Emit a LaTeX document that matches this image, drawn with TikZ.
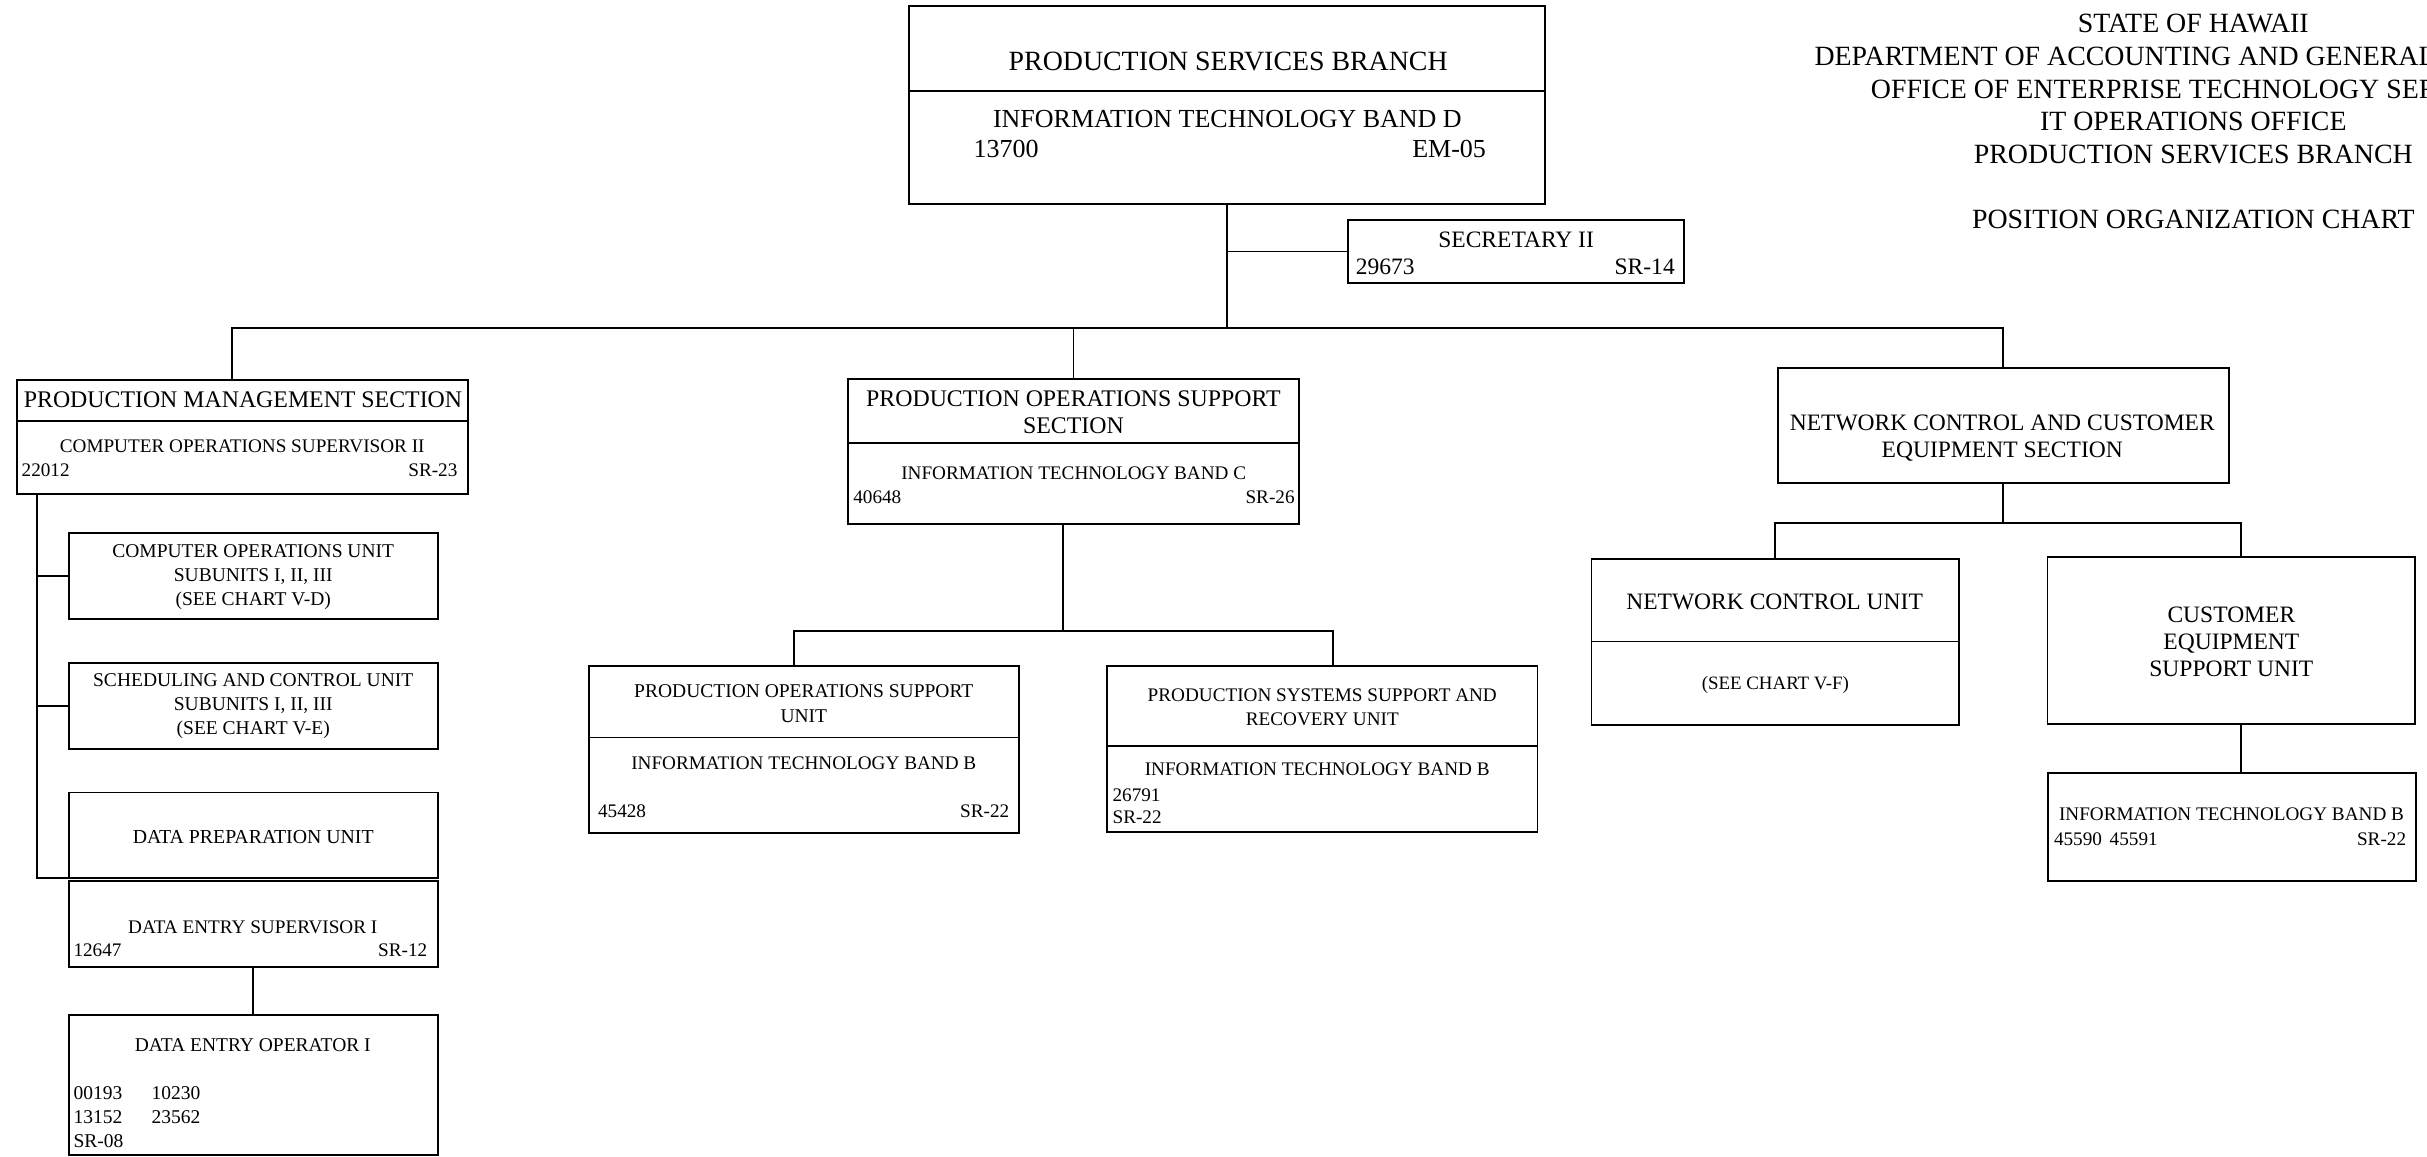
\documentclass[tikz,border=0pt]{standalone}
\usepackage{fontspec}
\setmainfont{Liberation Serif}
\usetikzlibrary{fit}
\begin{document}
\begin{tikzpicture}[x=0.5pt,y=-0.5pt,
  box/.style={draw, line width=0.6pt, inner sep=0pt, outer sep=0pt},
  wire/.style={line width=0.6pt},
  txt/.style={inner sep=0pt, outer sep=0pt, align=center},
  numL/.style={inner sep=0pt, outer sep=0pt, anchor=west},
  numR/.style={inner sep=0pt, outer sep=0pt, anchor=east},
  f90/.style={font=\fontsize{9}{10.6}\selectfont},
  f84/.style={font=\fontsize{8.4}{9.6}\selectfont},
  f77/.style={font=\fontsize{7.7}{8.85}\selectfont},
  f76/.style={font=\fontsize{7.6}{8.7}\selectfont},
  f64/.style={font=\fontsize{6.4}{7.8}\selectfont},
  f63/.style={font=\fontsize{6.3}{7.85}\selectfont},
  f62/.style={font=\fontsize{6.2}{7.8}\selectfont},
  f61/.style={font=\fontsize{6.1}{7.5}\selectfont}]

\useasboundingbox (0,0) rectangle (1568,747);
\clip (0,0) rectangle (1568,747);

% ---------- heading (runs past the sheet edge on the right) ----------
\node[txt,f90] (hdr) at (1417,57.5) {STATE OF HAWAII\\DEPARTMENT OF ACCOUNTING AND GENERAL SERVICES\\OFFICE OF ENTERPRISE TECHNOLOGY SERVICES\\IT OPERATIONS OFFICE\\PRODUCTION SERVICES BRANCH};
\node[txt,f90] (chart) at (1417,142) {POSITION ORGANIZATION CHART};

% ---------- branch chief ----------
\node[box, fit={(587,4) (998,132)}] (T) {};
\draw[wire] (587,59) -- (998,59);
\node[txt,f90] (Tname) at (793.5,40) {PRODUCTION SERVICES BRANCH};
\node[txt,f84] (Tpos) at (793,77) {INFORMATION TECHNOLOGY BAND D};
\node[numL,f84] (Tno) at (629,96) {13700};
\node[numR,f84] (Tsr) at (960,96) {EM-05};

% ---------- secretary ----------
\node[box, fit={(871,142) (1088,183)}] (SEC) {};
\node[txt,f76] (SECname) at (979.5,155) {SECRETARY II};
\node[numL,f76] (SECno) at (876,172.5) {29673};
\node[numR,f76] (SECsr) at (1082,172.5) {SR-14};

% ---------- production management section ----------
\node[box, fit={(11,245.5) (302.5,319)}] (PMS) {};
\draw[wire] (11,272) -- (302.5,272);
\node[txt,f77] (PMSname) at (157,258.5) {PRODUCTION MANAGEMENT SECTION};
\node[txt,f62] (PMSpos) at (156.5,288.5) {COMPUTER OPERATIONS SUPERVISOR II};
\node[numL,f62] (PMSno) at (14,303.6) {22012};
\node[numR,f62] (PMSsr) at (295.5,303.6) {SR-23};

\node[box, fit={(44.6,344.4) (282.7,400)}] (COU) {};
\node[txt,f63] (COUtxt) at (163.6,372.8) {COMPUTER OPERATIONS UNIT\\SUBUNITS I, II, III\\(SEE CHART V-D)};

\node[box, fit={(44.6,428.4) (282.7,484)}] (SCU) {};
\node[txt,f63] (SCUtxt) at (163.6,456.3) {SCHEDULING AND CONTROL UNIT\\SUBUNITS I, II, III\\(SEE CHART V-E)};

\node[box, fit={(44.6,512) (282.7,567.3)}] (DPU) {};
\node[txt,f64] (DPUtxt) at (163.6,540.5) {DATA PREPARATION UNIT};

\node[box, fit={(44.6,569.2) (282.7,624.5)}] (DES) {};
\node[txt,f62] (DESname) at (163.3,599) {DATA ENTRY SUPERVISOR I};
\node[numL,f62] (DESno) at (47.5,614) {12647};
\node[numR,f62] (DESsr) at (276,614) {SR-12};

\node[box, fit={(44.6,656) (282.7,746.4)}] (DEO) {};
\node[txt,f63] (DEOname) at (163.3,675) {DATA ENTRY OPERATOR I};
\node[numL,f63] (DEOa) at (47.5,706) {00193};
\node[numL,f63] (DEOb) at (98,706) {10230};
\node[numL,f63] (DEOc) at (47.5,721.6) {13152};
\node[numL,f63] (DEOd) at (98,721.6) {23562};
\node[numL,f63] (DEOsr) at (47.5,737) {SR-08};

% ---------- production operations support section ----------
\node[box, fit={(548,245) (839,338.5)}] (POSS) {};
\draw[wire] (548,286) -- (839,286);
\node[txt,f77] (POSSname) at (693.5,266.2) {PRODUCTION OPERATIONS SUPPORT\\SECTION};
\node[txt,f62] (POSSpos) at (693.7,305.8) {INFORMATION TECHNOLOGY BAND C};
\node[numL,f62] (POSSno) at (551.3,321) {40648};
\node[numR,f62] (POSSsr) at (836.4,321) {SR-26};

\node[box, fit={(380.5,430.5) (658.5,538)}] (POSU) {};
\draw[wire] (380.5,476.5) -- (658.5,476.5);
\node[txt,f63] (POSUname) at (519.3,454.6) {PRODUCTION OPERATIONS SUPPORT\\UNIT};
\node[txt,f62] (POSUpos) at (519.3,493) {INFORMATION TECHNOLOGY BAND B};
\node[numL,f62] (POSUno) at (386.4,524.3) {45428};
\node[numR,f62] (POSUsr) at (652,524.3) {SR-22};

\node[box, fit={(715.4,430.4) (993.3,537.8)}] (PSSR) {};
\draw[wire] (715.4,482) -- (993.3,482);
\node[txt,f62] (PSSRname) at (854.3,456.8) {PRODUCTION SYSTEMS SUPPORT AND\\RECOVERY UNIT};
\node[txt,f62] (PSSRpos) at (851,496.8) {INFORMATION TECHNOLOGY BAND B};
\node[numL,f62] (PSSRno) at (718.8,513.6) {26791};
\node[numL,f62] (PSSRsr) at (718.8,528.2) {SR-22};

% ---------- network control and customer equipment section ----------
\node[box, fit={(1148.5,238) (1440,311.8)}] (NCCES) {};
\node[txt,f76] (NCCEStxt) at (1293.6,283) {NETWORK CONTROL AND CUSTOMER\\EQUIPMENT SECTION};

\node[box, fit={(1028.2,361) (1265.7,468.3)}] (NCU) {};
\draw[wire] (1028.2,414.5) -- (1265.7,414.5);
\node[txt,f76] (NCUname) at (1146.5,388.7) {NETWORK CONTROL UNIT};
\node[txt,f61] (NCUref) at (1147,442.5) {(SEE CHART V-F)};

\node[box, fit={(1322.8,360) (1560.5,468)}] (CESU) {};
\node[txt,f76] (CESUtxt) at (1441.6,414.5) {CUSTOMER\\EQUIPMENT\\SUPPORT UNIT};

\node[box, fit={(1323,499.5) (1561,569)}] (ITB) {};
\node[txt,f62] (ITBpos) at (1441.7,526) {INFORMATION TECHNOLOGY BAND B};
\node[numL,f62] (ITBa) at (1327,542) {45590};
\node[numL,f62] (ITBb) at (1363,542) {45591};
\node[numR,f62] (ITBsr) at (1554.5,542) {SR-22};

% ---------- connectors ----------
\coordinate (hub) at (792.5,212);
\coordinate (busL) at (150,212);
\coordinate (busR) at (1294,212);
\draw[wire] (T.south) -- (hub);
\draw[wire] (T.south |- SEC.west) -- (SEC.west);
\draw[wire] (busL |- PMS.north) -- (busL) -- (busR) -- (busR |- NCCES.north);
\draw[wire] (POSS.north |- busL) -- (POSS.north);

\coordinate (spine) at (23.7,320);
\draw[wire] (spine |- PMS.south) -- (spine |- DPU.south west) -- (DPU.south west);
\draw[wire] (spine |- COU.west) -- (COU.west);
\draw[wire] (spine |- SCU.west) -- (SCU.west);
\draw[wire] (DES.south) -- (DEO.north);

\coordinate (posJ) at (687,407.4);
\coordinate (posA) at (513,407.4);
\coordinate (posB) at (861,407.4);
\draw[wire] (posJ |- POSS.south) -- (posJ);
\draw[wire] (posA |- POSU.north) -- (posA) -- (posB) -- (posB |- PSSR.north);

\coordinate (netA) at (1147,338);
\coordinate (netB) at (1448,338);
\draw[wire] (NCCES.south) -- (NCCES.south |- netA);
\draw[wire] (NCU.north) -- (NCU.north |- netA) -- (netB) -- (netB |- CESU.north);
\draw[wire] (netB |- CESU.south) -- (netB |- ITB.north);
\end{tikzpicture}
\end{document}
